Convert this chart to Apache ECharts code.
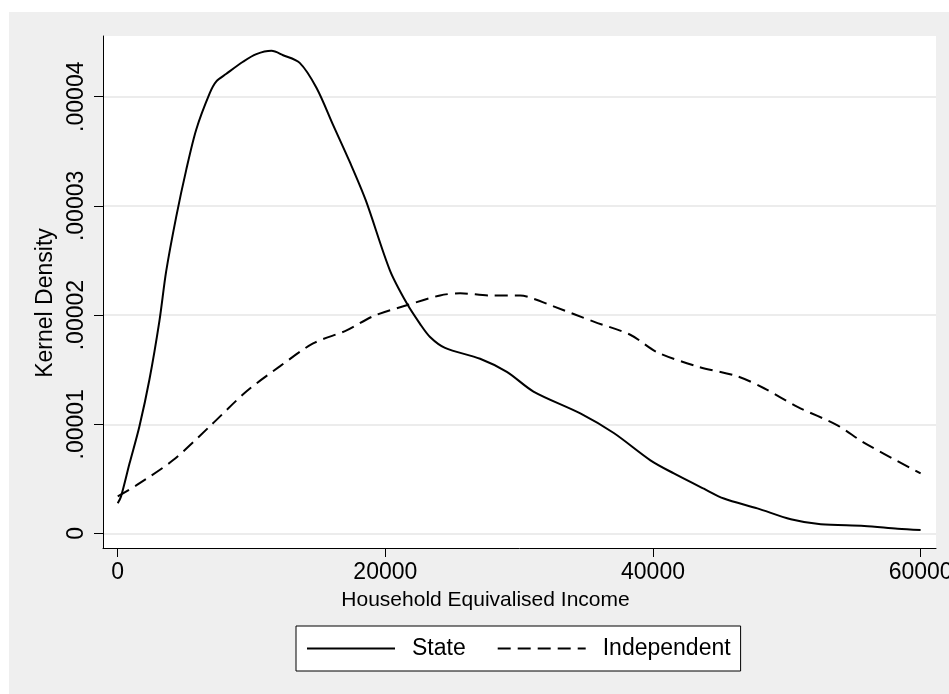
<!DOCTYPE html>
<html>
<head>
<meta charset="utf-8">
<script src="https://cdn.jsdelivr.net/npm/echarts@6/dist/echarts.min.js"></script>
<style>html,body{margin:0;padding:0;background:#fff;}#c{width:949px;height:694px;}</style>
</head>
<body>
<div id="c"></div>
<script>
// Household equivalised income (x) and kernel density (y, in units of 1e-5)
const stateIncome = [0, 250, 880, 1620, 2370, 3120, 3620, 4370, 5120, 5870, 6870, 7370, 8120, 9360, 10360, 11490, 12360, 13600, 14860, 16100, 17350, 18540, 20340, 21590, 22590, 23340, 24460, 27080, 29080, 31070, 34570, 37070, 39810, 41560, 43800, 45300, 47800, 50300, 52540, 55790, 58290, 60000];
const stateDensity = [0.277, 0.34, 0.64, 0.98, 1.41, 1.95, 2.40, 2.90, 3.33, 3.70, 4.03, 4.14, 4.21, 4.32, 4.39, 4.42, 4.38, 4.31, 4.08, 3.74, 3.40, 3.05, 2.41, 2.11, 1.92, 1.80, 1.70, 1.60, 1.48, 1.30, 1.10, 0.92, 0.67, 0.55, 0.41, 0.32, 0.23, 0.13, 0.084, 0.069, 0.044, 0.032];
const indIncome = [0, 1380, 4120, 6870, 9610, 12110, 14600, 17100, 19090, 21590, 24090, 25590, 27830, 30080, 31070, 32570, 35570, 38300, 40310, 43310, 46300, 48300, 50800, 53790, 55790, 60000];
const indDensity = [0.34, 0.44, 0.67, 0.98, 1.30, 1.53, 1.74, 1.86, 1.99, 2.09, 2.18, 2.20, 2.18, 2.18, 2.15, 2.08, 1.94, 1.82, 1.66, 1.53, 1.44, 1.33, 1.16, 0.99, 0.83, 0.55];
const seriesNames = ['State', 'Independent'];
const xTickValues = [0, 20000, 40000, 60000];
const yTickValues = [0, 1, 2, 3, 4];
const yTickLabels = ['0', '.00001', '.00002', '.00003', '.00004'];
const xTitle = 'Household Equivalised Income';
const yTitle = 'Kernel Density';

const FONT = '"Liberation Sans", Arial, sans-serif';
const pairs = (xs, ys) => xs.map((x, i) => [x, ys[i]]);

const chart = echarts.init(document.getElementById('c'), null, {renderer: 'canvas'});
chart.setOption({
  backgroundColor: '#ffffff',
  animation: false,
  graphic: [{
    type: 'rect', z: -1,
    shape: {x: 9, y: 12, width: 940, height: 682},
    style: {fill: '#efefef'}, silent: true
  }],
  grid: {
    left: 103, top: 36, right: 13, bottom: 146,
    containLabel: false, outerBoundsMode: 'none',
    show: true, backgroundColor: '#ffffff', borderWidth: 0
  },
  xAxis: {
    type: 'value', min: -1100, max: 61150,
    name: xTitle, nameLocation: 'middle', nameGap: 42,
    nameTextStyle: {fontFamily: FONT, fontSize: 21, color: '#000', padding: [0, 68, 0, 0]},
    axisLine: {show: true, onZero: false, lineStyle: {color: '#000', width: 1}},
    axisTick: {show: true, length: 9, customValues: xTickValues, lineStyle: {color: '#000'}},
    axisLabel: {customValues: xTickValues, fontFamily: FONT, fontSize: 23, color: '#000', margin: 13,
      hideOverlap: false, formatter: v => String(v)},
    splitLine: {show: false}
  },
  yAxis: {
    type: 'value', min: -0.133, max: 4.556,
    name: yTitle, nameLocation: 'middle', nameGap: 42,
    nameTextStyle: {fontFamily: FONT, fontSize: 23, color: '#000', padding: [0, 22, 0, 0]},
    axisLine: {show: true, onZero: false, lineStyle: {color: '#000', width: 1}},
    axisTick: {show: true, length: 9, customValues: yTickValues, lineStyle: {color: '#000'}},
    axisLabel: {customValues: yTickValues, rotate: 90, fontFamily: FONT, fontSize: 23, color: '#000', margin: 15,
      formatter: v => yTickLabels[yTickValues.indexOf(Math.round(v))]},
    splitLine: {show: true, lineStyle: {color: '#e6e6e6', width: 1.5}}
  },
  legend: {
    left: 296, top: 626, orient: 'horizontal',
    padding: [11, 10, 11, 10],
    backgroundColor: '#ffffff', borderColor: '#000', borderWidth: 1,
    itemWidth: 88, itemHeight: 14, itemGap: 31,
    itemStyle: {opacity: 0, color: 'rgba(0,0,0,0)', borderWidth: 0},
    textStyle: {fontFamily: FONT, fontSize: 23, color: '#000', padding: [0, 0, 0, 12]},
    data: seriesNames
  },
  series: [
    {
      name: seriesNames[0], type: 'line', data: pairs(stateIncome, stateDensity),
      symbol: 'none', showSymbol: false, smooth: 0.3,
      lineStyle: {color: '#000', width: 2, type: 'solid'}, itemStyle: {color: '#000'}
    },
    {
      name: seriesNames[1], type: 'line', data: pairs(indIncome, indDensity),
      symbol: 'none', showSymbol: false, smooth: 0.3,
      lineStyle: {color: '#000', width: 2, type: [13, 7]}, itemStyle: {color: '#000'}
    }
  ]
});
</script>
</body>
</html>
